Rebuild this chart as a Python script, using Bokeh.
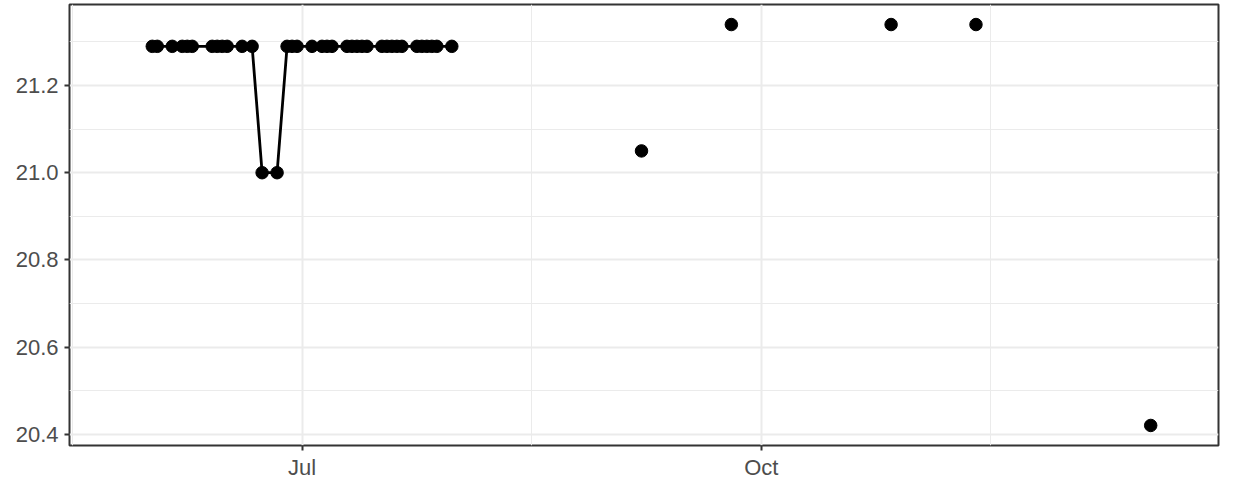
import numpy as np
import pandas as pd
from bokeh.plotting import figure
from bokeh.models import (ColumnDataSource, Range1d, FixedTicker,
                          PrintfTickFormatter, DatetimeTickFormatter)
from bokeh.embed import file_html
from bokeh.resources import INLINE

# ---- data ----
dates = [
    "2017-06-01", "2017-06-02", "2017-06-05", "2017-06-07", "2017-06-08",
    "2017-06-09", "2017-06-13", "2017-06-14", "2017-06-15", "2017-06-16",
    "2017-06-19", "2017-06-21", "2017-06-23", "2017-06-26", "2017-06-28",
    "2017-06-29", "2017-06-30", "2017-07-03", "2017-07-05", "2017-07-06",
    "2017-07-07", "2017-07-10", "2017-07-11", "2017-07-12", "2017-07-13",
    "2017-07-14", "2017-07-17", "2017-07-18", "2017-07-19", "2017-07-20",
    "2017-07-21", "2017-07-24", "2017-07-25", "2017-07-26", "2017-07-27",
    "2017-07-28", "2017-07-31",
    "2017-08-01", "2017-09-07", "2017-09-08", "2017-09-25", "2017-09-26",
    "2017-10-27", "2017-10-30", "2017-11-13", "2017-11-14", "2017-12-18",
]
nan = float("nan")
values = [
    21.29, 21.29, 21.29, 21.29, 21.29,
    21.29, 21.29, 21.29, 21.29, 21.29,
    21.29, 21.29, 21.00, 21.00, 21.29,
    21.29, 21.29, 21.29, 21.29, 21.29,
    21.29, 21.29, 21.29, 21.29, 21.29,
    21.29, 21.29, 21.29, 21.29, 21.29,
    21.29, 21.29, 21.29, 21.29, 21.29,
    21.29, 21.29,
    nan, 21.05, nan, 21.34, nan,
    21.34, nan, 21.34, nan, 20.42,
]

x_major = ["2017-07-01", "2017-10-01"]
x_minor = ["2017-05-16", "2017-08-16", "2017-11-16"]
y_major = [20.4, 20.6, 20.8, 21.0, 21.2]
y_minor = [20.5, 20.7, 20.9, 21.1, 21.3]


def ms(s):
    return pd.Timestamp(s).value / 1e6


source = ColumnDataSource(dict(x=pd.to_datetime(dates), y=values))

p = figure(width=1220, height=482, x_axis_type="datetime",
           output_backend="svg", toolbar_location=None,
           x_range=Range1d(pd.Timestamp("2017-05-15 10:00"),
                           pd.Timestamp("2017-12-31 14:00")),
           y_range=Range1d(20.374, 21.386),
           min_border_left=69, min_border_right=2,
           min_border_top=4, min_border_bottom=32)

p.background_fill_color = "white"
p.border_fill_color = "white"
p.outline_line_color = "#333333"
p.outline_line_width = 2

p.xaxis.ticker = FixedTicker(ticks=[ms(d) for d in x_major],
                             minor_ticks=[ms(d) for d in x_minor])
p.yaxis.ticker = FixedTicker(ticks=y_major, minor_ticks=y_minor)
fmt = "%b"
p.xaxis.formatter = DatetimeTickFormatter(
    microseconds=fmt, milliseconds=fmt, seconds=fmt, minsec=fmt,
    minutes=fmt, hourmin=fmt, hours=fmt, days=fmt, months=fmt, years=fmt)
p.yaxis.formatter = PrintfTickFormatter(format="%.1f")

for ax in (p.xaxis, p.yaxis):
    ax.axis_line_color = None
    ax.major_tick_line_color = "#333333"
    ax.major_tick_line_width = 2
    ax.major_tick_out = 5
    ax.major_tick_in = 0
    ax.minor_tick_out = 0
    ax.minor_tick_in = 0
    ax.major_label_text_font = "Liberation Sans"
    ax.major_label_text_font_size = "22px"
    ax.major_label_text_color = "#4D4D4D"
p.xaxis.major_label_standoff = 4
p.yaxis.major_label_standoff = 6

for g in (p.xgrid, p.ygrid):
    g.grid_line_color = "#EBEBEB"
    g.grid_line_width = 2
    g.minor_grid_line_color = "#EBEBEB"
    g.minor_grid_line_width = 1

p.line("x", "y", source=source, line_color="black", line_width=2.8)
p.scatter("x", "y", source=source, size=12.5, color="black")

open("out.html", "w").write(file_html(p, INLINE))
